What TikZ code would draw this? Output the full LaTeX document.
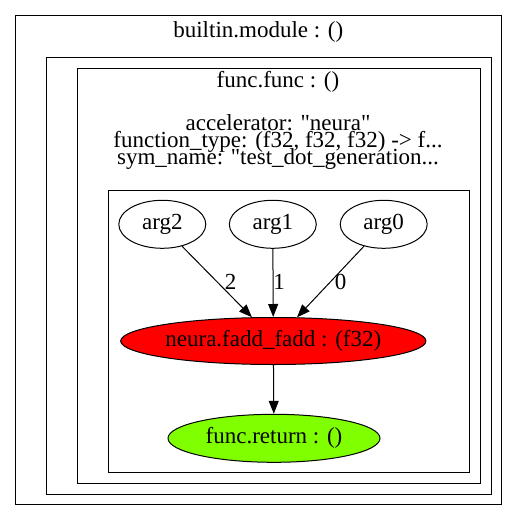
\documentclass[tikz,border=0pt]{standalone}
\usepackage{fontspec}
\newfontfamily\gvfont{Liberation Serif}
\usetikzlibrary{shapes.geometric,arrows.meta}
\definecolor{opred}{HTML}{FF0000}
\definecolor{retgreen}{HTML}{7FFF00}
\begin{document}
\begin{tikzpicture}[x=0.75pt,y=-0.75pt,
  every node/.style={font=\gvfont\fontsize{17.25}{20}\selectfont},
  cluster/.style={draw=black,line width=0.75pt},
  opnode/.style={ellipse,draw=black,line width=0.75pt,inner sep=0pt,minimum height=36pt},
  argnode/.style={opnode,minimum width=65.25pt},
  flowedge/.style={draw=black,line width=0.75pt,-{Triangle[length=9.75pt,width=7.5pt]}},
  elabel/.style={inner sep=0pt},
  textlabel/.style={anchor=base,inner sep=0pt}
]
\useasboundingbox (0,0) rectangle (517,521);
% clusters
\draw[cluster] (15.7,15.7) rectangle (501,504.3);
\draw[cluster] (46.7,57.3) rectangle (491,494);
\draw[cluster] (77.3,68.3) rectangle (480,483.7);
\draw[cluster] (108.5,190.7) rectangle (469,472.7);
% cluster labels
\node[textlabel] (modlabel) at (258.3,37.3) {builtin.module : ()};
\node[textlabel] (funclabel) at (278,87.3) {func.func : ()};
\node[textlabel] (attr1) at (278,130.7) {accelerator: "neura"};
\node[textlabel] (attr2) at (278,147.3) {function\_type: (f32, f32, f32) -> f...};
\node[textlabel] (attr3) at (278,164) {sym\_name: "test\_dot\_generation...};
% nodes
\node[argnode] (arg2) at (162.3,224.3) {arg2};
\node[argnode] (arg1) at (272.8,224.3) {arg1};
\node[argnode] (arg0) at (383.7,224.3) {arg0};
\node[opnode,fill=opred,minimum width=225.75pt,minimum height=35.25pt] (neura) at (273.3,341) {neura.fadd\_fadd : (f32)};
\node[opnode,fill=retgreen,minimum width=159pt] (ret) at (274,438.3) {func.return : ()};
% edges
\draw[flowedge] (arg2.-48) -- (neura.132);
\draw[flowedge] (arg1) -- (neura);
\draw[flowedge] (arg0.-132) -- (neura.45);
\draw[flowedge] (neura) -- (ret);
% edge labels
\node[elabel] (lab2) at (230.7,281.7) {2};
\node[elabel] (lab1) at (279,281.7) {1};
\node[elabel] (lab0) at (340.7,281.7) {0};
\end{tikzpicture}
\end{document}
